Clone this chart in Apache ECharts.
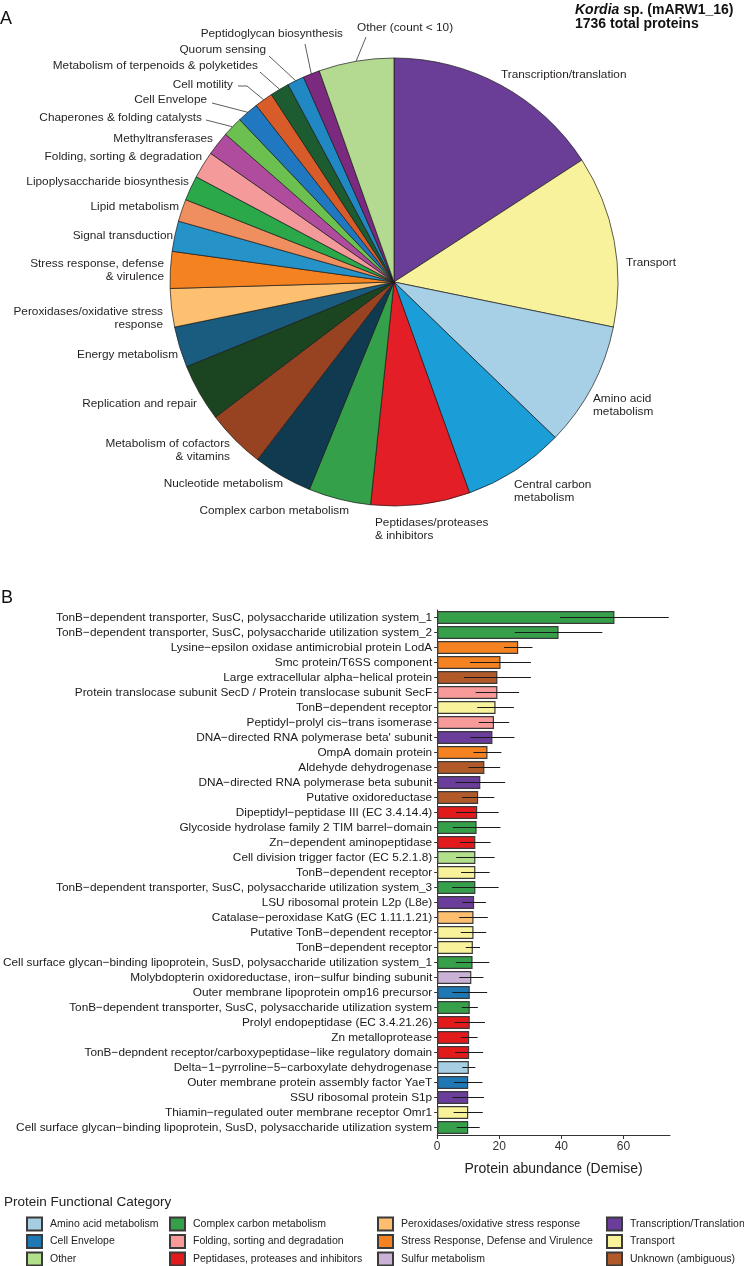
<!DOCTYPE html>
<html>
<head>
<meta charset="utf-8">
<script src="https://cdn.jsdelivr.net/npm/echarts@6/dist/echarts.min.js"></script>
<style>
html,body{margin:0;padding:0;background:#fff;}
#c{width:744px;height:1266px;}
</style>
</head>
<body>
<div id="c"></div>
<script>
// ---------- Panel A: pie data ----------
const pieNames = [
  'Transcription/translation', 'Transport', 'Amino acid\nmetabolism', 'Central carbon\nmetabolism',
  'Peptidases/proteases\n& inhibitors', 'Complex carbon metabolism', 'Nucleotide metabolism',
  'Metabolism of cofactors\n& vitamins', 'Replication and repair', 'Energy metabolism',
  'Peroxidases/oxidative stress\nresponse', 'Stress response, defense\n& virulence',
  'Signal transduction', 'Lipid metabolism', 'Lipoplysaccharide biosynthesis',
  'Folding, sorting & degradation', 'Methyltransferases', 'Chaperones & folding catalysts',
  'Cell Envelope', 'Cell motility', 'Metabolism of terpenoids & polyketides',
  'Quorum sensing', 'Peptidoglycan biosynthesis', 'Other (count < 10)'
];
const pieCounts = [275, 215, 156, 127, 124, 78, 74, 74, 72, 51, 48, 46, 38, 28, 31, 34, 30, 25, 27, 23, 24, 21, 21, 94];

// ---------- Panel B: bar data ----------
const barNames = [
  'TonB\u2212dependent transporter, SusC, polysaccharide utilization system_1',
  'TonB\u2212dependent transporter, SusC, polysaccharide utilization system_2',
  'Lysine\u2212epsilon oxidase antimicrobial protein LodA',
  'Smc protein/T6SS component',
  'Large extracellular alpha\u2212helical protein',
  'Protein translocase subunit SecD / Protein translocase subunit SecF',
  'TonB\u2212dependent receptor',
  'Peptidyl\u2212prolyl cis\u2212trans isomerase',
  "DNA\u2212directed RNA polymerase beta' subunit",
  'OmpA domain protein',
  'Aldehyde dehydrogenase',
  'DNA\u2212directed RNA polymerase beta subunit',
  'Putative oxidoreductase',
  'Dipeptidyl\u2212peptidase III (EC 3.4.14.4)',
  'Glycoside hydrolase family 2 TIM barrel\u2212domain',
  'Zn\u2212dependent aminopeptidase',
  'Cell division trigger factor (EC 5.2.1.8)',
  'TonB\u2212dependent receptor',
  'TonB\u2212dependent transporter, SusC, polysaccharide utilization system_3',
  'LSU ribosomal protein L2p (L8e)',
  'Catalase\u2212peroxidase KatG (EC 1.11.1.21)',
  'Putative TonB\u2212dependent receptor',
  'TonB\u2212dependent receptor',
  'Cell surface glycan\u2212binding lipoprotein, SusD, polysaccharide utilization system_1',
  'Molybdopterin oxidoreductase, iron\u2212sulfur binding subunit',
  'Outer membrane lipoprotein omp16 precursor',
  'TonB\u2212dependent transporter, SusC, polysaccharide utilization system',
  'Prolyl endopeptidase (EC 3.4.21.26)',
  'Zn metalloprotease',
  'TonB\u2212depndent receptor/carboxypeptidase\u2212like regulatory domain',
  'Delta\u22121\u2212pyrroline\u22125\u2212carboxylate dehydrogenase',
  'Outer membrane protein assembly factor YaeT',
  'SSU ribosomal protein S1p',
  'Thiamin\u2212regulated outer membrane receptor Omr1',
  'Cell surface glycan\u2212binding lipoprotein, SusD, polysaccharide utilization system'
];
const barValues = [57.1, 39.1, 26.1, 20.4, 19.4, 19.4, 18.8, 18.3, 17.8, 16.2, 15.2, 13.9, 13.2, 12.9, 12.7, 12.3, 12.3, 12.3,
  12.3, 11.9, 11.7, 11.7, 11.5, 11.4, 11.0, 10.5, 10.5, 10.5, 10.3, 10.3, 10.2, 10.0, 10.0, 10.0, 10.0];
const barErrors = [17.5, 14.1, 4.6, 9.8, 10.8, 7.0, 5.9, 4.9, 7.1, 4.5, 5.1, 8.0, 5.2, 6.9, 7.7, 4.9, 6.2, 4.6,
  7.5, 3.8, 4.6, 4.1, 2.3, 5.4, 3.9, 5.6, 2.6, 4.9, 2.7, 4.5, 2.1, 4.6, 5.1, 4.7, 3.7];
const barCategory = [
  'Complex carbon metabolism', 'Complex carbon metabolism', 'Stress Response, Defense and Virulence',
  'Stress Response, Defense and Virulence', 'Unknown (ambiguous)', 'Folding, sorting and degradation',
  'Transport', 'Folding, sorting and degradation', 'Transcription/Translation',
  'Stress Response, Defense and Virulence', 'Unknown (ambiguous)', 'Transcription/Translation',
  'Unknown (ambiguous)', 'Peptidases, proteases and inhibitors', 'Complex carbon metabolism',
  'Peptidases, proteases and inhibitors', 'Other', 'Transport',
  'Complex carbon metabolism', 'Transcription/Translation', 'Peroxidases/oxidative stress response',
  'Transport', 'Transport', 'Complex carbon metabolism',
  'Sulfur metabolism', 'Cell Envelope', 'Complex carbon metabolism',
  'Peptidases, proteases and inhibitors', 'Peptidases, proteases and inhibitors', 'Peptidases, proteases and inhibitors',
  'Amino acid metabolism', 'Cell Envelope', 'Transcription/Translation',
  'Transport', 'Complex carbon metabolism'
];
const legendCategories = [
  'Amino acid metabolism', 'Cell Envelope', 'Other',
  'Complex carbon metabolism', 'Folding, sorting and degradation', 'Peptidases, proteases and inhibitors',
  'Peroxidases/oxidative stress response', 'Stress Response, Defense and Virulence', 'Sulfur metabolism',
  'Transcription/Translation', 'Transport', 'Unknown (ambiguous)'
];
const xTicks = [0, 20, 40, 60];

// ---------- styles & layout (not data) ----------
const piePalette = [
  '#6a3d96', '#f7f29b', '#a7cfe5', '#1b9dd8', '#e31e26', '#34a04a', '#0f3a50',
  '#974322', '#1b4420', '#1a5c80', '#fdc070', '#f58220', '#2592c8', '#ef8e5e',
  '#2aa84a', '#f49a9a', '#b04c9e', '#6cc04f', '#1f78c0', '#d85c2a', '#1d5c30',
  '#2089c4', '#7b2a80', '#b4d990'
];
// label anchor [x, y, align] for each pie label (text placement only)
const pieLabelAnchors = [
  [501, 75, 'left'], [626, 263, 'left'], [593, 405, 'left'], [514, 491, 'left'],
  [375, 529, 'left'], [349, 511, 'right'], [283, 484, 'right'], [230, 450, 'right'],
  [197, 404, 'right'], [178, 355, 'right'], [163, 318, 'right'], [164, 270, 'right'],
  [173, 236, 'right'], [179, 207, 'right'], [189, 182, 'right'], [202, 157, 'right'],
  [213, 139, 'right'], [202, 118, 'right'], [207, 100, 'right'], [233, 85, 'right'],
  [258, 66, 'right'], [266, 50, 'right'], [343, 34, 'right'], [357, 28, 'left']
];
// leader line bend/end points for the crowded labels
const pieLeaders = {
  17: [[206, 120]], 18: [[212, 103]], 19: [[247, 86], [238, 86]], 20: [[260, 72]],
  21: [[269, 56]], 22: [[305, 44]], 23: [[366, 37]]
};
const catPalette = {
  'Amino acid metabolism': '#a6cee3',
  'Cell Envelope': '#1f78b4',
  'Other': '#b2df8a',
  'Complex carbon metabolism': '#35a049',
  'Folding, sorting and degradation': '#f89a9a',
  'Peptidases, proteases and inhibitors': '#e31a1c',
  'Peroxidases/oxidative stress response': '#fdbf6f',
  'Stress Response, Defense and Virulence': '#f58220',
  'Sulfur metabolism': '#cab2d6',
  'Transcription/Translation': '#6a3d9a',
  'Transport': '#f8f39a',
  'Unknown (ambiguous)': '#b15928'
};
const FONT = '"Liberation Sans", Arial, sans-serif';

const chart = echarts.init(document.getElementById('c'), null, {renderer: 'canvas'});

const pieData = pieNames.map((n, i) => ({
  name: n, value: pieCounts[i],
  itemStyle: {color: piePalette[i]},
  labelLine: {show: pieLeaders[i] !== undefined}
}));

const barSeries = legendCategories.map(cat => ({
  type: 'bar',
  name: cat,
  xAxisIndex: 0,
  yAxisIndex: 0,
  barWidth: 13,
  barGap: '-100%',
  itemStyle: {color: catPalette[cat], borderColor: '#3a3a3a', borderWidth: 1.2},
  emphasis: {disabled: true},
  data: barValues.map((v, i) => barCategory[i] === cat ? v : '-')
}));

const errData = barValues.map((v, i) => [v, barErrors[i], i]);

const legendCols = [[0, 3, 26], [3, 6, 169], [6, 9, 377], [9, 12, 606]];

const option = {
  animation: false,
  textStyle: {fontFamily: FONT},
  title: [
    {text: 'A', left: 0, top: 10, padding: 0, textStyle: {fontFamily: FONT, fontSize: 18, fontWeight: 'normal', color: '#111'}},
    {text: 'B', left: 1, top: 589, padding: 0, textStyle: {fontFamily: FONT, fontSize: 18, fontWeight: 'normal', color: '#111'}},
    {
      text: '{i|Kordia}{b| sp. (mARW1_16)}\n{b|1736 total proteins}',
      left: 575, top: 3, padding: 0,
      textStyle: {
        fontFamily: FONT, lineHeight: 14,
        rich: {
          i: {fontFamily: FONT, fontStyle: 'italic', fontWeight: 'bold', fontSize: 14, color: '#111', lineHeight: 14},
          b: {fontFamily: FONT, fontWeight: 'bold', fontSize: 14, color: '#111', lineHeight: 14}
        }
      }
    },
    {text: 'Protein Functional Category', left: 4, top: 1195, padding: 0, textStyle: {fontFamily: FONT, fontSize: 13.5, fontWeight: 'normal', color: '#222'}}
  ],
  legend: legendCols.map(([a, b, left]) => ({
    orient: 'vertical',
    left: left,
    top: 1216.5,
    height: 60,
    padding: 0,
    itemWidth: 15,
    itemHeight: 13,
    itemGap: 2.5,
    icon: 'rect',
    selectedMode: false,
    textStyle: {fontFamily: FONT, fontSize: 10.5, lineHeight: 13, color: '#222', padding: [0, 0, 0, 3]},
    data: legendCategories.slice(a, b)
  })),
  grid: {left: 437, top: 610, width: 233, height: 525, containLabel: false},
  xAxis: {
    type: 'value', min: 0, max: 75,
    name: 'Protein abundance (Demise)', nameLocation: 'middle', nameGap: 27,
    nameTextStyle: {fontFamily: FONT, fontSize: 14, color: '#222'},
    axisLine: {show: true, lineStyle: {color: '#333', width: 1}},
    axisTick: {show: true, length: 4, lineStyle: {color: '#333'}, customValues: xTicks},
    axisLabel: {fontFamily: FONT, fontSize: 12, color: '#333', margin: 6, customValues: xTicks},
    splitLine: {show: false}
  },
  yAxis: {
    type: 'category', inverse: true, data: barNames,
    axisLine: {show: true, lineStyle: {color: '#333', width: 1}},
    axisTick: {show: true, alignWithLabel: true, length: 3, lineStyle: {color: '#333'}},
    axisLabel: {fontFamily: FONT, fontSize: 11.8, color: '#1a1a1a', margin: 5, interval: 0},
    splitLine: {show: false}
  },
  series: [
    {
      type: 'pie',
      center: [394, 282],
      radius: 224,
      startAngle: 90,
      clockwise: true,
      avoidLabelOverlap: false,
      minShowLabelAngle: 0,
      emphasis: {disabled: true},
      itemStyle: {borderColor: '#1a1a1a', borderWidth: 0.7},
      label: {show: true, position: 'outside', fontFamily: FONT, fontSize: 11.8, color: '#231f20', lineHeight: 13.5},
      labelLine: {show: true, length: 3, length2: 3, smooth: false, lineStyle: {color: '#333', width: 0.8}},
      labelLayout: function (params) {
        const i = params.dataIndex;
        const a = pieLabelAnchors[i];
        const res = {x: a[0], y: a[1], align: a[2], verticalAlign: 'middle'};
        const lead = pieLeaders[i];
        if (lead && params.labelLinePoints) {
          const edge = params.labelLinePoints[0];
          const pts = [edge].concat(lead);
          if (pts.length < 3) pts.push(pts[pts.length - 1]);
          res.labelLinePoints = pts;
        }
        return res;
      },
      data: pieData
    },
    ...barSeries,
    {
      type: 'custom',
      name: 'error',
      xAxisIndex: 0,
      yAxisIndex: 0,
      z: 5,
      encode: {x: 0, y: 2},
      renderItem: function (params, api) {
        const v = api.value(0), e = api.value(1), idx = api.value(2);
        const p1 = api.coord([v - e, idx]);
        const p2 = api.coord([v + e, idx]);
        return {
          type: 'line',
          shape: {x1: p1[0], y1: p1[1], x2: p2[0], y2: p2[1]},
          style: {stroke: '#1a1a1a', lineWidth: 1}
        };
      },
      data: errData
    }
  ]
};
chart.setOption(option);
</script>
</body>
</html>
